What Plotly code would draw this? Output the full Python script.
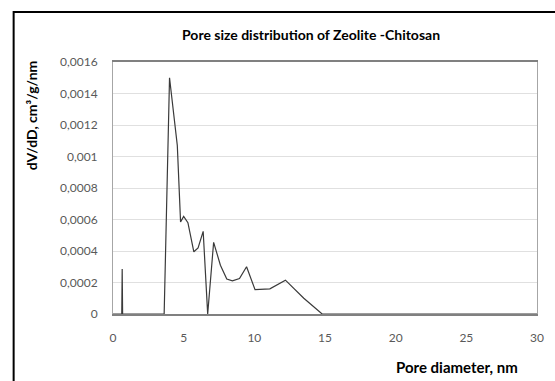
import plotly.graph_objects as go

# Data
pore_diameter_nm = [0, 0.62, 0.65, 0.68, 3.62, 4.0, 4.55, 4.78, 5.0, 5.3, 5.72, 6.02,
                    6.38, 6.7, 7.12, 7.6, 8.05, 8.45, 8.95, 9.45, 10.05, 11.1, 12.2,
                    13.5, 14.8, 30]
dv_dd = [0, 0, 0.000285, 0, 0, 0.0015, 0.00107, 0.000585, 0.00062, 0.00058, 0.000395,
         0.00042, 0.000525, 0, 0.000455, 0.00031, 0.000222, 0.00021, 0.000225, 0.0003,
         0.000155, 0.00016, 0.000215, 0.0001, 0, 0]

y_tick_vals = [0, 0.0002, 0.0004, 0.0006, 0.0008, 0.001, 0.0012, 0.0014, 0.0016]
y_tick_text = ["0", "0,0002", "0,0004", "0,0006", "0,0008", "0,001", "0,0012", "0,0014", "0,0016"]
x_tick_vals = [0, 5, 10, 15, 20, 25, 30]
x_tick_text = ["0", "5", "10", "15", "20", "25", "30"]

title_text = "Pore size distribution of Zeolite -Chitosan"
x_title = "Pore diameter, nm"
y_title = "dV/dD, cm³/g/nm"

FONT = "Lato"
W, H = 555, 381
L, R, T, B = 113, 11, 62, 67
pw, ph = W - L - R, H - T - B

def px(xp):
    return (xp - L) / pw

def py(yp):
    return (H - B - yp) / ph

fig = go.Figure()
fig.add_trace(go.Scatter(
    x=pore_diameter_nm, y=dv_dd, mode="lines",
    line=dict(color="#3a3a3a", width=1.2), showlegend=False,
))

fig.update_layout(
    width=W, height=H,
    margin=dict(l=L, r=R, t=T, b=B),
    paper_bgcolor="white", plot_bgcolor="white",
    font=dict(family=FONT, color="#595959", size=12),
    xaxis=dict(range=[0, 30], tickvals=x_tick_vals, ticktext=x_tick_text,
               showgrid=False, zeroline=False, showline=True, linecolor="#808080",
               linewidth=1.5, mirror=True, ticks="", ticklabelstandoff=12,
               tickfont=dict(family=FONT, size=12, color="#595959")),
    yaxis=dict(range=[0, 0.0016], tickvals=y_tick_vals, ticktext=y_tick_text,
               showgrid=True, gridcolor="#e0e0e0", gridwidth=1, zeroline=False,
               showline=True, linecolor="#a6a6a6", linewidth=1, mirror=True,
               ticks="", ticklabelstandoff=12,
               tickfont=dict(family=FONT, size=12, color="#595959")),
    annotations=[
        dict(text="<b>" + title_text + "</b>", xref="paper", yref="paper",
             x=px(314), y=py(35), xanchor="center", yanchor="middle", showarrow=False,
             font=dict(family=FONT, size=14, color="#000000")),
        dict(text="<b>" + x_title + "</b>", xref="paper", yref="paper",
             x=px(527), y=py(367), xanchor="right", yanchor="middle", showarrow=False,
             font=dict(family=FONT, size=15, color="#000000")),
        dict(text="<b>" + y_title + "</b>", xref="paper", yref="paper",
             x=px(30), y=py(115), xanchor="center", yanchor="middle", showarrow=False,
             textangle=-90, font=dict(family=FONT, size=14, color="#000000")),
    ],
    shapes=[
        dict(type="rect", xref="paper", yref="paper",
             x0=px(12), x1=px(600), y0=py(430), y1=py(12),
             line=dict(color="#000000", width=2), fillcolor="rgba(0,0,0,0)", layer="above"),
    ],
)

fig.write_html("out.html")
